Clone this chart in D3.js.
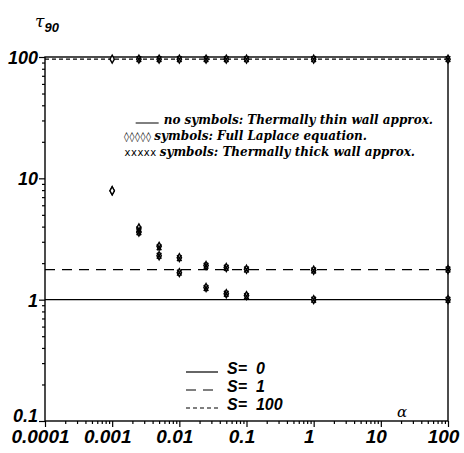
<!DOCTYPE html>
<html>
<head>
<meta charset="utf-8">
<script src="https://cdn.jsdelivr.net/npm/d3@7"></script>
<style>
  html, body { margin: 0; padding: 0; background: #fff; }
  svg { display: block; }
  .num { font-family: "Liberation Sans", Arial, sans-serif; font-weight: bold; font-style: italic; }
  .note { font-family: "DejaVu Serif", serif; font-weight: bold; font-style: italic; font-size: 12px; }
</style>
</head>
<body>
<script>

// Axis ticks.
var xTicks = [0.0001, 0.001, 0.01, 0.1, 1, 10, 100];
var xTickLabels = ['0.0001', '0.001', '0.01', '0.1', '1', '10', '100'];
var yTicks = [0.1, 1, 10, 100];
var yTickLabels = ['0.1', '1', '10', '100'];

// Thermally thin wall approx. (no symbols).
var thinAlpha = [0.0001, 100];
var thinS0 = [1.0, 1.0];
var thinS1 = [1.77, 1.77];
var thinS100 = [96, 96];

// Full Laplace equation (diamonds).
var laplaceAlpha = [0.001, 0.0025, 0.005, 0.01, 0.025, 0.05, 0.1, 1, 100];
var laplaceS0 = [7.9, 3.6, 2.3, 1.67, 1.26, 1.12, 1.08, 1.0, 1.0];
var laplaceS1 = [7.9, 3.9, 2.75, 2.22, 1.91, 1.84, 1.78, 1.75, 1.77];
var laplaceS100 = [96, 96, 96, 96, 96, 96, 96, 96, 96];

// Thermally thick wall approx. (crosses).
var thickAlpha = [0.0025, 0.005, 0.01, 0.025, 0.05, 0.1, 1, 100];
var thickS0 = [3.6, 2.3, 1.67, 1.25, 1.12, 1.07, 1.0, 1.0];
var thickS1 = [3.8, 2.7, 2.2, 1.9, 1.83, 1.77, 1.74, 1.77];
var thickS100 = [96, 96, 96, 96, 96, 96, 96, 96];

// S legend.
var sLabels = ['S=  0', 'S=  1', 'S=  100'];
var sDashes = [null, '10,7', '4,3'];

// Symbol legend.
var noteMarks = ['', '\u25CA\u25CA\u25CA\u25CA\u25CA', 'xxxxx'];
var noteTexts = [
  'no symbols: Thermally thin wall approx.',
  'symbols: Full Laplace equation.',
  'symbols: Thermally thick wall approx.'
];

var width = 464, height = 453;
var mLeft = 45, mRight = 448, mTop = 57, mBottom = 421;

var svg = d3.select('body').append('svg')
  .attr('width', width)
  .attr('height', height);

var x = d3.scaleLog().domain([0.0001, 100]).range([mLeft, mRight]);
var y = d3.scaleLog().domain([0.1, 100]).range([mBottom, mTop]);

// Minor ticks between decades.
function minors(ticks) {
  var out = [];
  for (var i = 0; i < ticks.length - 1; i++)
    for (var k = 2; k < 10; k++) out.push(ticks[i] * k);
  return out;
}

// Frame.
svg.append('rect')
  .attr('x', mLeft).attr('y', mTop)
  .attr('width', mRight - mLeft).attr('height', mBottom - mTop)
  .attr('fill', 'none').attr('stroke', '#000').attr('stroke-width', 1.4);

// Bottom axis.
var gx = svg.append('g').attr('transform', 'translate(0,' + mBottom + ')');
gx.append('g').call(d3.axisBottom(x).tickValues(minors(xTicks)).tickSize(3).tickSizeOuter(0).tickFormat(''));
gx.append('g').call(d3.axisBottom(x).tickValues(xTicks).tickSize(6).tickSizeOuter(0)
    .tickFormat(function(d, i) { return xTickLabels[i]; }).tickPadding(3));

// Left axis.
var gy = svg.append('g').attr('transform', 'translate(' + mLeft + ',0)');
gy.append('g').call(d3.axisLeft(y).tickValues(minors(yTicks)).tickSize(3).tickSizeOuter(0).tickFormat(''));
gy.append('g').call(d3.axisLeft(y).tickValues(yTicks).tickSize(6).tickSizeOuter(0)
    .tickFormat(function(d, i) { return yTickLabels[i]; }).tickPadding(1));

svg.selectAll('.domain').remove();
svg.selectAll('.tick line').attr('stroke', '#000').attr('stroke-width', 1.2);
svg.selectAll('.tick text').attr('class', 'num').attr('fill', '#000').attr('font-size', 19);
gx.selectAll('.tick text').attr('dx', -5);
gy.selectAll('.tick text').attr('font-size', 18)
  .attr('dy', function(d) { return d === yTicks[0] ? '0.05em' : '0.36em'; });

// Thin wall lines.
var line = d3.line()
  .x(function(d) { return x(d[0]); })
  .y(function(d) { return y(d[1]); });

[thinS0, thinS1, thinS100].forEach(function(vals, i) {
  svg.append('path')
    .datum(d3.zip(thinAlpha, vals))
    .attr('d', line)
    .attr('fill', 'none')
    .attr('stroke', '#000')
    .attr('stroke-width', 1.3)
    .attr('stroke-dasharray', sDashes[i]);
});

// Diamonds.
function diamond(g, cx, cy) {
  g.append('path')
    .attr('d', 'M' + cx + ',' + (cy - 4) + 'L' + (cx + 2.2) + ',' + cy +
      'L' + cx + ',' + (cy + 4) + 'L' + (cx - 2.2) + ',' + cy + 'Z')
    .attr('fill', '#fff').attr('stroke', '#000').attr('stroke-width', 1.4);
}

// Crosses.
function cross(g, cx, cy) {
  g.append('path')
    .attr('d', 'M' + (cx - 2.2) + ',' + (cy - 3) + 'L' + (cx + 2.2) + ',' + (cy + 3) +
      'M' + (cx + 2.2) + ',' + (cy - 3) + 'L' + (cx - 2.2) + ',' + (cy + 3))
    .attr('stroke', '#000').attr('stroke-width', 1.6);
}

var marks = svg.append('g');
[laplaceS0, laplaceS1, laplaceS100].forEach(function(vals) {
  vals.forEach(function(v, i) { diamond(marks, x(laplaceAlpha[i]), y(v)); });
});
[thickS0, thickS1, thickS100].forEach(function(vals) {
  vals.forEach(function(v, i) { cross(marks, x(thickAlpha[i]), y(v)); });
});

// Symbol legend, right-aligned rows.
var noteEnd = [433, 367, 415];
var noteY = [124, 140, 156];
noteTexts.forEach(function(t, i) {
  var txt = svg.append('text').attr('class', 'note')
    .attr('x', noteEnd[i]).attr('y', noteY[i])
    .attr('text-anchor', 'end').text(t);
  var start = noteEnd[i] - txt.node().getComputedTextLength();
  svg.append('text')
    .attr('x', start - 3).attr('y', noteY[i])
    .attr('text-anchor', 'end')
    .style('font-family', 'DejaVu Sans, sans-serif').style('font-size', '10px')
    .style('letter-spacing', '0.5px')
    .text(noteMarks[i]);
  if (i === 0) {
    svg.append('line')
      .attr('x1', start - 28).attr('x2', start - 5)
      .attr('y1', noteY[i] - 1).attr('y2', noteY[i] - 1)
      .attr('stroke', '#000').attr('stroke-width', 1);
  }
});

// S legend.
sLabels.forEach(function(t, i) {
  var ly = 372 + i * 18;
  svg.append('line')
    .attr('x1', 186).attr('x2', 218)
    .attr('y1', ly).attr('y2', ly)
    .attr('stroke', '#000').attr('stroke-width', 1.2)
    .attr('stroke-dasharray', sDashes[i]);
  svg.append('text').attr('class', 'num')
    .attr('x', 227).attr('y', ly + 2)
    .attr('font-size', 16)
    .attr('xml:space', 'preserve')
    .text(t);
});

// Axis titles.
var title = svg.append('text').attr('x', 35).attr('y', 27);
title.append('tspan')
  .style('font-family', 'DejaVu Serif, serif').style('font-style', 'italic')
  .style('font-size', '17px').text('\u03C4');
title.append('tspan').attr('class', 'num')
  .attr('dy', 5).attr('font-size', 13).text('90');

svg.append('text')
  .attr('x', 402).attr('y', 417)
  .attr('text-anchor', 'middle')
  .style('font-family', 'DejaVu Serif, serif').style('font-style', 'italic')
  .style('font-size', '15px')
  .text('\u03B1');

</script>
</body>
</html>
